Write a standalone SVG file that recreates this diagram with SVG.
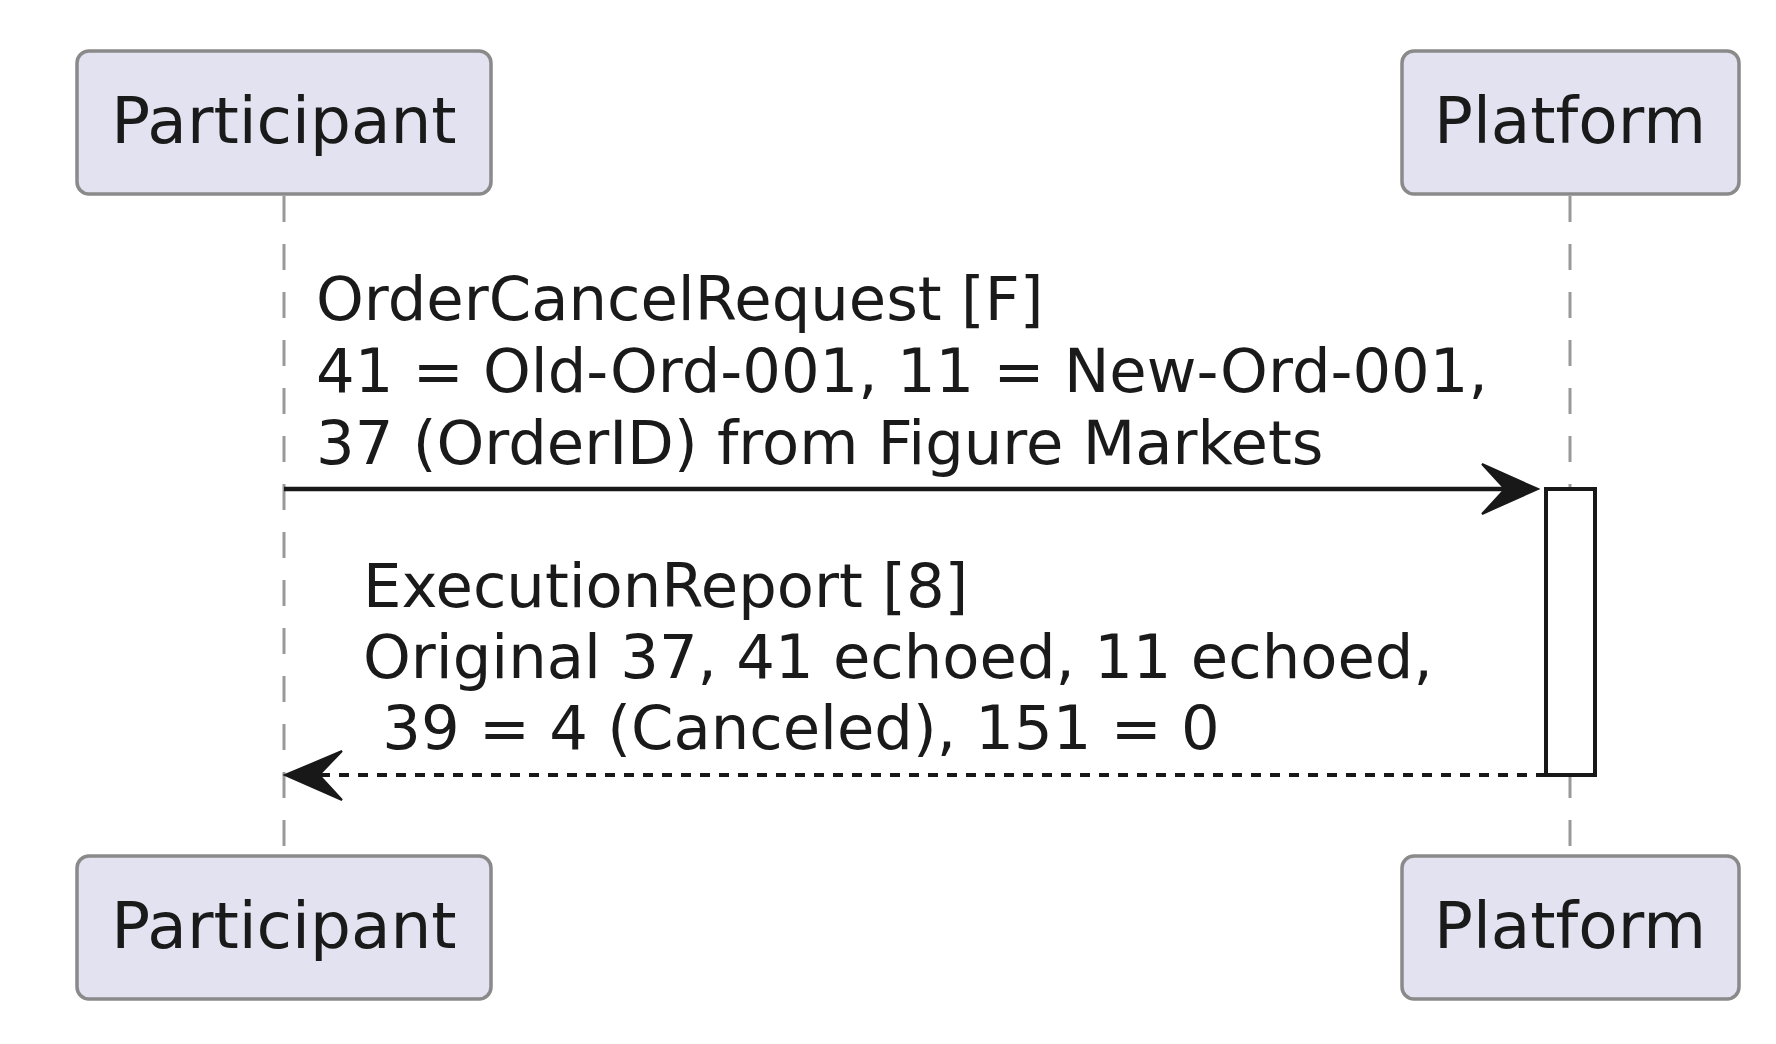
<svg xmlns="http://www.w3.org/2000/svg" width="1776" height="1044" viewBox="0 0 1776 1044">
<style>
.box{fill:#E2E2F0;stroke:#8a8a8a;stroke-width:3.5}
.ptxt{font-family:"DejaVu Sans",sans-serif;font-size:64.5px;fill:#1a1a1a;text-anchor:middle}
.mtxt{font-family:"DejaVu Sans",sans-serif;font-size:60.8px;fill:#1a1a1a}
.life{stroke:#999;stroke-width:3;stroke-dasharray:26 22;fill:none}
.msg{stroke:#181818;stroke-width:4.5;fill:none}
.ret{stroke:#181818;stroke-width:4;stroke-dasharray:10 9;fill:none}
.head{fill:#181818;stroke:#181818;stroke-width:2;stroke-linejoin:miter}
.act{fill:#fff;stroke:#181818;stroke-width:4}
</style>
<rect width="1776" height="1044" fill="#fff"/>
<g id="connectors">
<line class="life" x1="284" y1="196" x2="284" y2="855"/>
<line class="life" x1="1570" y1="196" x2="1570" y2="855"/>
<line class="msg" x1="284" y1="489" x2="1520" y2="489"/>
<polygon class="head" points="1538,489 1482,464 1505,489 1482,514"/>
<line class="ret" x1="1546" y1="775" x2="315" y2="775"/>
<polygon class="head" points="285,775 342,751 319,775 342,800"/>
<text class="mtxt" x="316" y="320">OrderCancelRequest [F]</text>
<text class="mtxt" x="316" y="392">41 = Old-Ord-001, 11 = New-Ord-001,</text>
<text class="mtxt" x="316" y="464">37 (OrderID) from Figure Markets</text>
<text class="mtxt" x="363" y="607">ExecutionReport [8]</text>
<text class="mtxt" x="363" y="678">Original 37, 41 echoed, 11 echoed,</text>
<text class="mtxt" x="363" y="749" xml:space="preserve"> 39 = 4 (Canceled), 151 = 0</text>
</g>
<g id="activation">
<rect class="act" x="1546" y="489" width="49" height="286"/>
</g>
<g id="participant-top">
<rect class="box" x="77" y="51" width="414" height="143" rx="12"/>
<text class="ptxt" x="284" y="143">Participant</text>
</g>
<g id="platform-top">
<rect class="box" x="1402" y="51" width="337" height="143" rx="12"/>
<text class="ptxt" x="1570" y="143">Platform</text>
</g>
<g id="participant-bottom">
<rect class="box" x="77" y="856" width="414" height="143" rx="12"/>
<text class="ptxt" x="284" y="948">Participant</text>
</g>
<g id="platform-bottom">
<rect class="box" x="1402" y="856" width="337" height="143" rx="12"/>
<text class="ptxt" x="1570" y="948">Platform</text>
</g>
</svg>
